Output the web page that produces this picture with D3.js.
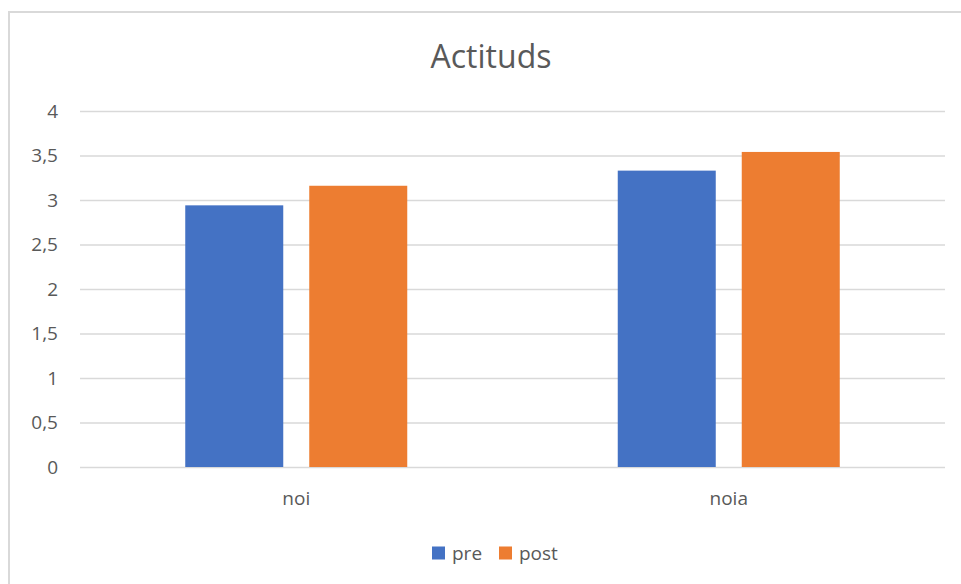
<!DOCTYPE html>
<html><head><meta charset="utf-8">
<script src="https://cdn.jsdelivr.net/npm/d3@7"></script>
<style>body{margin:0;background:#fff;} text{font-family:"Open Sans",sans-serif;fill:#595959;}</style>
</head><body>
<svg id="c" width="961" height="584"></svg>
<script>
const categories = ["noi", "noia"];
const seriesNames = ["pre", "post"];
const preValues = [2.94, 3.33];
const postValues = [3.16, 3.54];
const colors = ["#4472C4", "#ED7D31"];
const yTicks = [0, 0.5, 1, 1.5, 2, 2.5, 3, 3.5, 4];
const title = "Actituds";

(function () {
const data = categories.map((c, i) => ({cat: c, vals: [preValues[i], postValues[i]]}));
const svg = d3.select("#c");
svg.append("rect").attr("x", 9).attr("y", 12).attr("width", 1000).attr("height", 700)
  .attr("fill", "#fff").attr("stroke", "#d9d9d9").attr("stroke-width", 2);

const pl = 80, pr = 945, pt = 111, pb = 467;
const y = d3.scaleLinear().domain([0, 4]).range([pb, pt]);
const x0 = d3.scaleBand().domain(categories).range([pl, pr]).paddingInner(0.4867).paddingOuter(0.4867 / 2);
const x1 = d3.scaleBand().domain(seriesNames).range([0, x0.bandwidth()]).paddingInner(0.2097).paddingOuter(0);

svg.append("text").attr("x", 491).attr("y", 68).attr("text-anchor", "middle")
  .style("font-size", "32px").text(title);

const yAxis = d3.axisLeft(y).tickValues(yTicks).tickSize(-(pr - pl)).tickPadding(22)
  .tickFormat(d => String(d).replace(".", ","));
const gy = svg.append("g").attr("transform", `translate(${pl},0)`).call(yAxis);
gy.select(".domain").remove();
gy.selectAll(".tick line").attr("stroke", "#d9d9d9").attr("stroke-width", 1.5);
gy.selectAll(".tick text").style("font-size", "19px").attr("fill", "#595959");

const groups = svg.append("g").selectAll("g").data(data).join("g")
  .attr("transform", d => `translate(${x0(d.cat)},0)`);
groups.selectAll("rect").data(d => d.vals.map((v, i) => ({s: seriesNames[i], v, i}))).join("rect")
  .attr("x", d => x1(d.s)).attr("width", x1.bandwidth())
  .attr("y", d => y(d.v)).attr("height", d => pb - y(d.v))
  .attr("fill", d => colors[d.i]);

const xAxis = d3.axisBottom(x0).tickSize(0).tickPadding(25);
const gx = svg.append("g").attr("transform", `translate(0,${pb})`).call(xAxis);
gx.select(".domain").remove();
gx.selectAll(".tick text").style("font-size", "19px").attr("fill", "#595959");

const legend = [{n: "pre", x: 432, c: colors[0]}, {n: "post", x: 499, c: colors[1]}];
const lg = svg.append("g").selectAll("g").data(legend).join("g");
lg.append("rect").attr("x", d => d.x).attr("y", 546.5).attr("width", 13).attr("height", 13).attr("fill", d => d.c);
lg.append("text").attr("x", d => d.x + 20).attr("y", 559.5).style("font-size", "19px").text(d => d.n);
})();
</script>
</body></html>
